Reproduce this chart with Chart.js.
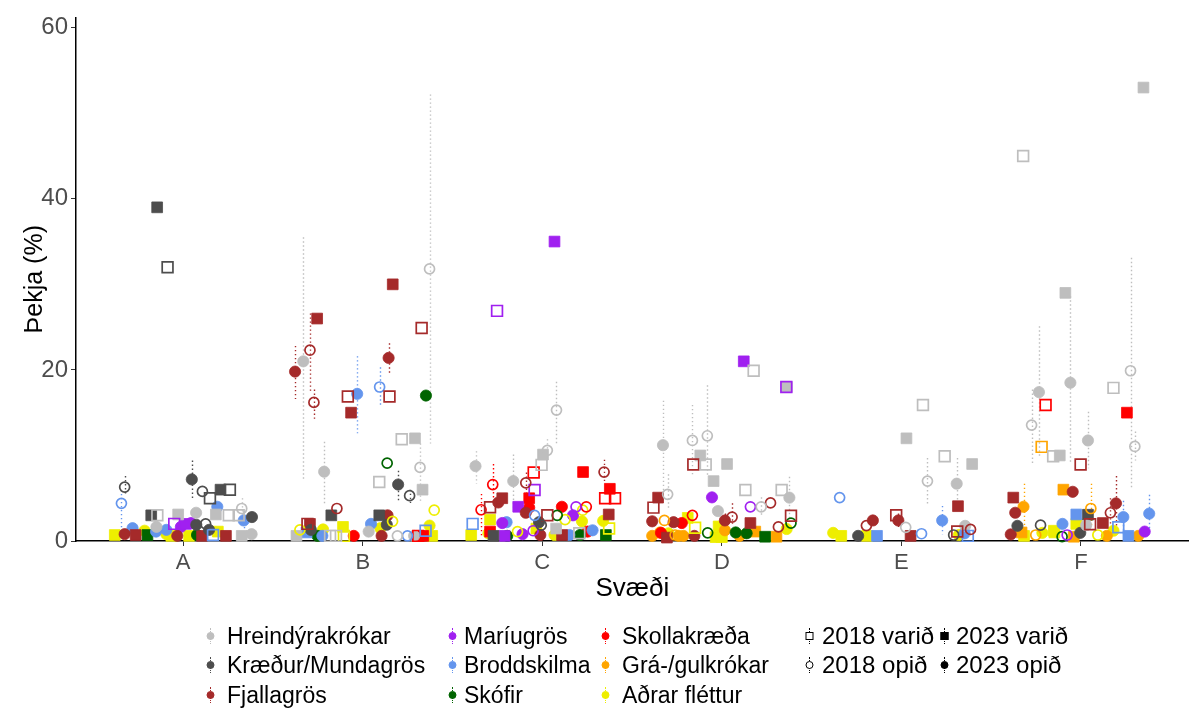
<!DOCTYPE html>
<html>
<head>
<meta charset="utf-8">
<script src="https://cdn.jsdelivr.net/npm/chart.js@4.4.1/dist/chart.umd.min.js"></script>
<style>
  html, body { margin: 0; padding: 0; background: #fff; }
  #wrap { position: relative; width: 1198px; height: 709px; font-family: "Liberation Sans", Arial, sans-serif; }
  #chart { position: absolute; left: 0; top: 0; }
  .lg { position: absolute; font-size: 23px; color: #000; line-height: 1; white-space: nowrap; transform: translateY(-50%); }
  .lg.grp { font-size: 24px; }
  .key { position: absolute; transform: translate(-50%, -50%); }
  .key .stem { position: absolute; left: 50%; top: 0; height: 100%; border-left: 1px dotted currentColor; transform: translateX(-0.5px); }
  .key .dot { position: absolute; left: 50%; top: 50%; transform: translate(-50%, -50%); box-sizing: border-box; }
</style>
</head>
<body>
<div id="wrap">
  <canvas id="chart" width="1198" height="709"></canvas>
  <div id="legend"></div>
</div>
<script>
// Regions on the x axis
const regions = ['A', 'B', 'C', 'D', 'E', 'F'];
const yTicks = [0, 20, 40, 60];

// Lichen groups
const speciesNames = ['Hreindýrakrókar', 'Kræður/Mundagrös', 'Fjallagrös', 'Maríugrös',
  'Broddskilma', 'Skófir', 'Skollakræða', 'Grá-/gulkrókar', 'Aðrar fléttur'];
const speciesColors = ['#BEBEBE', '#4D4D4D', '#A52A2A', '#A020F0',
  '#6495ED', '#006400', '#FF0000', '#FFA500', '#EEEE00'];

// Year / treatment groups
const groupKeys = ['v18', 'o18', 'v23', 'o23'];
const groupNames = ['2018 varið', '2018 opið', '2023 varið', '2023 opið'];

// Rows: [region, group, cover %, low, high]; matching jitter offsets follow each table
const hreinRows = [
  ['A','v23',3.1],['A','v23',3.1],['A','v23',0.6],['A','v18',3.0],['A','v18',3.0],['A','v18',3.0],
  ['A','o23',3.3],['A','o23',1.65],['A','o23',0.8],['A','o18',3.8,2.8,5.0],
  ['B','o23',21.0,7.0,35.5],['B','o23',8.1,4.4,11.6],['B','v23',0.6],['B','v18',0.6],['B','v18',0.6],
  ['B','o18',31.8,11.4,52.2],['B','v18',11.9],['B','v23',12.0],['B','o18',8.6,4.7,11.4],['B','v18',6.9],
  ['B','v23',6.0],['B','o23',1.1],['B','o18',0.6],['B','o23',0.6],
  ['C','o18',15.3,11.4,18.6],['C','o18',10.6,9.5,11.9],['C','v23',10.1],['C','v18',8.9],
  ['C','o23',8.75,6.7,10.5],['C','o23',7.0,3.9,10.1],['C','v23',1.45],['C','v18',0.9],
  ['D','v18',19.9],['D','v23',18.0],['D','o23',11.2,5.7,16.4],['D','o18',5.45,3.6,7.8],
  ['D','o18',11.75,7.6,15.9],['D','o18',12.3,7.6,18.2],['D','v23',10.0],['D','v18',8.95],['D','v23',9.0],
  ['D','v23',7.0],['D','v18',5.95],['D','v18',5.95],['D','o23',5.07,2.4,7.5],['D','o23',3.5],['D','o18',4.0,3.0,5.1],
  ['E','v18',15.9],['E','v23',12.0],['E','v18',9.9],['E','v23',9.0],['E','o18',7.0,4.1,9.7],
  ['E','o23',6.7,4.0,9.7],['E','o18',1.6],['E','o23',1.77],
  ['F','v23',53.0],['F','v18',45.0],['F','v23',29.0],['F','o18',19.9,6.25,33.1],['F','v18',17.9],
  ['F','o23',18.5,9.0,28.6],['F','o23',17.4,9.7,25.1],['F','o18',13.55,9.1,17.7],['F','v18',9.9],
  ['F','v23',10.0],['F','o23',11.75,8.5,15.1],['F','o18',11.05,9.4,12.8],['F','o23',1.85]
];
const hreinJitter = [
  -0.028,0.182,0.326,-0.144,0.254,0.309,0.072,-0.149,0.381,0.326,
  -0.331,-0.215,-0.369,-0.182,-0.149,0.372,0.217,0.291,0.319,0.092,0.333,0.033,0.193,0.286,
  0.079,0.028,0.004,-0.004,-0.372,-0.162,0.077,0.206,
  0.177,0.362,-0.328,-0.302,-0.164,-0.081,-0.12,-0.09,0.029,-0.046,0.131,0.333,0.376,-0.022,0.219,
  0.12,0.028,0.241,0.394,0.145,0.308,0.024,0.355,
  0.348,-0.322,-0.087,0.276,0.181,-0.059,-0.234,-0.275,-0.155,-0.118,0.039,0.3,0.029
];

const kraedurRows = [
  ['A','v23',39.0],['A','v18',32.0],['A','v23',3.0],['A','v23',6.0],['A','v18',5.0],['A','v18',6.0],
  ['A','o23',7.2,5.0,9.4],['A','o23',1.9],['A','o23',1.3],['A','o23',2.8],['A','o18',6.3,5.5,7.6],
  ['A','o18',2.0],['A','o18',5.8],
  ['B','v23',3.0],['B','o23',1.3],['B','v23',3.0],['B','o23',1.9],['B','o23',6.6,4.7,8.2],['B','o18',5.3,4.4,6.0],
  ['C','o23',2.2],['C','o18',1.85],['C','v23',0.6],
  ['E','o23',0.6],['E','o18',0.7],
  ['F','v23',3.07],['F','o23',1.77],['F','o18',1.85],['F','o23',0.95]
];
const kraedurJitter = [
  -0.145,-0.087,-0.178,0.208,0.149,0.26,0.048,0.073,0.144,0.383,-0.326,0.125,0.107,
  -0.175,-0.289,0.092,0.134,0.197,0.261,
  -0.018,-0.006,-0.272,
  -0.241,0.291,
  0.039,-0.354,-0.225,-0.004
];

const fjallaRows = [
  ['A','v23',0.7],['A','v23',0.6],['A','v23',0.6],['A','o23',0.6],['A','o23',0.8],
  ['B','o23',19.8,16.6,22.8],['B','o18',22.3,17.4,26.6],['B','o18',16.2,14.3,17.7],['B','v23',26.0],
  ['B','o18',3.8],['B','v18',2.0],['B','v23',2.0],['B','v18',16.9],['B','v23',15.0],['B','v18',16.9],
  ['B','o23',21.4,19.6,23.1],['B','v23',30.0],['B','v18',24.9],['B','o23',3.0,2.2,3.6],['B','o23',0.6],
  ['C','o18',6.8,5.5,8.0],['C','o18',8.06,6.7,9.5],['C','v23',5.0],['C','o23',4.5],['C','v18',3.95],
  ['C','o23',3.3],['C','v18',3.0],['C','v23',3.1],['C','o23',0.7],['C','v23',0.7],
  ['D','v18',8.95],['D','v23',5.07],['D','v18',3.9],['D','o18',4.45],['D','v18',2.95],['D','o23',2.3],
  ['D','o23',2.2],['D','o23',2.4,1.8,3.2],['D','o18',2.8,2.0,4.4],['D','v23',2.1],['D','o18',1.65],
  ['D','o23',0.6],['D','v23',0.4],
  ['E','v23',4.07],['E','v18',3.0],['E','o23',2.4],['E','o18',1.8],['E','o23',2.4,1.5,3.2],
  ['E','v23',0.6],['E','v18',1.1],['E','o18',1.35],
  ['F','v18',8.95],['F','o23',5.75],['F','v23',5.07],['F','o23',3.3],['F','o23',4.4,1.6,7.6],
  ['F','o18',3.3,2.0,5.0],['F','v23',2.1],['F','o23',0.77],['F','v18',1.95]
];
const fjallaJitter = [
  -0.265,0.105,0.238,-0.033,-0.326,
  -0.377,-0.294,-0.272,-0.254,-0.144,-0.308,-0.294,-0.083,-0.065,0.149,0.144,0.167,0.328,0.138,0.105,
  -0.092,0.344,-0.223,-0.245,-0.291,-0.092,0.028,0.37,-0.011,0.11,
  -0.159,-0.355,-0.381,0.271,0.385,-0.388,-0.269,0.017,0.057,0.159,0.315,-0.153,-0.306,
  0.315,-0.029,-0.159,-0.195,-0.017,0.051,0.311,0.385,
  -0.002,-0.046,-0.377,-0.366,0.195,0.164,0.122,-0.391,0.051
];

const mariuRows = [
  ['A','v18',2.0],['A','v23',2.0],['A','o23',1.65],['A','o23',2.1],
  ['C','v23',35.0],['C','v18',26.9],['C','v18',5.95],['C','v23',4.0],['C','o18',4.0],['C','o23',3.0],
  ['C','o23',2.1],['C','v23',0.6],['C','o23',0.8],['C','o18',1.2],
  ['D','v23',21.0],['D','v18',18.0],['D','o23',5.1],['D','o18',4.0],
  ['F','o18',0.7],['F','o23',1.1]
];
const mariuJitter = [
  -0.05,0.015,-0.013,0.044,
  0.068,-0.252,-0.043,-0.134,0.188,0.171,-0.223,-0.21,-0.11,-0.051,
  0.122,0.359,-0.055,0.159,
  -0.077,0.355
];

const broddRows = [
  ['A','o18',4.4,1.0,5.5],['A','o23',1.5],['A','o23',1.1],['A','o23',1.3],['A','o23',4.0],
  ['A','o23',2.4,1.5,3.5],['A','v18',0.7],
  ['B','v23',1.0],['B','o23',0.6],['B','o23',17.2,12.6,21.6],['B','o18',18.0,15.7,20.3],['B','o23',2.0],
  ['B','o18',0.6],['B','v18',1.2],
  ['C','o18',3.0],['C','o23',2.2],['C','v18',2.0],['C','o23',0.7],['C','o23',1.25],
  ['E','o18',5.07],['E','o23',2.4,0.8,4.1],['E','o18',0.85],['E','v23',0.6],['E','o23',0.9],['E','v18',0.6],
  ['F','o23',2.8,0.7,4.7],['F','o23',3.2,1.3,5.4],['F','v23',3.1],['F','o23',2.0],['F','v18',1.6],['F','v23',0.6]
];
const broddJitter = [
  -0.344,-0.282,-0.151,-0.094,0.19,0.337,0.166,
  -0.313,-0.225,-0.031,0.094,0.046,0.249,0.35,
  -0.043,-0.199,-0.388,0.151,0.28,
  -0.344,0.227,0.112,-0.136,0.352,0.37,
  0.236,0.38,-0.026,-0.103,0.208,0.264
];

const skofirRows = [
  ['A','v23',0.7],['A','o23',0.7],
  ['B','o23',0.6],['B','o23',17.0],['B','o18',9.1],
  ['C','o18',3.0],['C','o23',0.6],['C','o23',0.7],['C','v23',0.7],
  ['D','o18',2.1],['D','o18',0.95],['D','o23',1.0],['D','o23',0.9],['D','v23',0.5],
  ['F','o18',0.5]
];
const skofirJitter = [
  -0.199,0.077,
  -0.252,0.352,0.136,
  0.083,-0.195,0.21,0.354,
  0.385,-0.079,0.077,0.138,0.241,
  -0.105
];

const skollaRows = [
  ['B','o23',0.6],['B','v23',0.6],['B','v18',0.6],
  ['C','o18',6.6,4.4,9.0],['C','v18',8.0],['C','v23',8.06],['C','v23',6.1],['C','v18',5.0],['C','v18',5.0],
  ['C','v23',5.0],['C','o18',3.65,0.5,5.5],['C','o23',3.9],['C','o23',4.0],['C','o18',4.0],['C','v23',1.1],['C','o23',1.1],
  ['D','o18',3.0],['D','o23',2.1],['D','o23',0.95],
  ['F','v18',15.9],['F','v23',15.0]
];
const skollaJitter = [
  -0.05,0.337,0.309,
  -0.276,-0.048,0.227,0.376,0.35,0.405,-0.073,-0.341,-0.073,0.109,0.245,-0.291,0.252,
  -0.164,-0.223,-0.339,
  -0.197,0.256
];

const graRows = [
  ['D','o18',2.4],['D','o23',0.6],['D','o23',1.0],['D','o23',0.6],['D','o23',0.6],['D','o23',1.25],
  ['D','o23',0.6],['D','v23',1.1],['D','v23',0.5],['D','o18',0.7],
  ['F','v18',11.0],['F','v23',6.0],['F','o23',4.0,1.6,6.7],['F','o18',3.8,1.7,6.7],['F','v23',1.0],
  ['F','o18',0.7],['F','v23',0.5],['F','o23',0.6],['F','o23',0.6]
];
const graJitter = [
  -0.32,-0.388,-0.344,-0.241,-0.214,0.017,0.099,0.186,0.304,-0.26,
  -0.219,-0.098,-0.32,0.055,-0.331,-0.252,-0.04,0.144,0.319
];

const adrarRows = [
  ['A','v23',0.7],['A','v23',0.6],['A','v23',0.6],['A','v23',1.1],['A','o23',1.2],['A','o23',0.8],
  ['B','o18',1.3],['B','o23',1.35],['B','v23',1.65],['B','v18',0.6],['B','o18',3.6],['B','o23',1.8],
  ['B','o18',2.3],['B','o23',1.5],['B','v23',0.6],
  ['C','o18',3.6],['C','o18',2.5],['C','o23',2.3],['C','o23',2.35],['C','v18',1.45],['C','v23',2.5],
  ['C','v23',0.7],['C','o23',0.9],['C','o18',1.1],['C','o23',0.7],['C','v23',1.45],
  ['D','v23',2.7],['D','v18',1.55],['D','o23',1.4],['D','v23',1.7],['D','o23',0.9],['D','v23',0.45],['D','v23',0.45],
  ['E','o23',0.95],['E','v23',0.6],['E','v23',0.6],['E','o23',0.7],
  ['F','v23',0.6],['F','v23',1.0],['F','o23',0.95],['F','v23',2.0],['F','o18',0.7],['F','o23',1.2],['F','v23',1.2]
];
const adrarJitter = [
  -0.381,-0.066,0.033,0.193,-0.215,-0.094,
  -0.35,-0.221,-0.11,-0.105,0.398,0.372,0.166,0.098,0.387,
  0.225,0.127,0.221,0.339,0.372,-0.291,-0.396,-0.3,-0.138,0.068,-0.033,
  -0.19,-0.149,0.361,-0.018,-0.297,-0.035,0,
  -0.38,-0.335,-0.192,0.32,
  -0.317,-0.148,-0.215,-0.026,0.094,0.181,-0.151
];

const speciesRows = [hreinRows, kraedurRows, fjallaRows, mariuRows, broddRows, skofirRows, skollaRows, graRows, adrarRows];
const speciesJitter = [hreinJitter, kraedurJitter, fjallaJitter, mariuJitter, broddJitter, skofirJitter, skollaJitter, graJitter, adrarJitter];

Chart.defaults.font.family = '"Liberation Sans", Arial, sans-serif';

// one scatter dataset per lichen group and year/treatment
const datasets = [];
speciesRows.forEach((rows, s) => {
  const col = speciesColors[s];
  groupKeys.forEach((g) => {
    const pts = [];
    rows.forEach((r, i) => {
      if (r[1] !== g) return;
      pts.push({
        x: regions.indexOf(r[0]) + 1 + speciesJitter[s][i],
        y: r[2],
        lo: r.length > 3 ? r[3] : null,
        hi: r.length > 4 ? r[4] : null
      });
    });
    if (!pts.length) return;
    const square = g[0] === 'v';
    const filled = g.endsWith('23');
    datasets.push({
      label: speciesNames[s] + ' ' + groupNames[groupKeys.indexOf(g)],
      data: pts,
      pointStyle: square ? 'rect' : 'circle',
      pointRadius: square ? 7.6 : (filled ? 5.6 : 5),
      pointBackgroundColor: filled ? col : 'rgba(0,0,0,0)',
      pointBorderColor: col,
      pointBorderWidth: filled ? 0.8 : 1.7,
      showLine: false,
      clip: false,
      order: filled ? 1 : 0
    });
  });
});

// dotted vertical error bars drawn under the markers
const errorBars = {
  id: 'errorBars',
  beforeDatasetsDraw(chart) {
    const ctx = chart.ctx;
    const ys = chart.scales.y;
    ctx.save();
    ctx.lineWidth = 1.4;
    ctx.setLineDash([1.4, 2.6]);
    chart.data.datasets.forEach((ds, di) => {
      const meta = chart.getDatasetMeta(di);
      ds.data.forEach((p, i) => {
        if (p.lo == null || p.hi == null) return;
        const x = Math.round(meta.data[i].x) + 0.5;
        ctx.strokeStyle = ds.pointBorderColor;
        ctx.beginPath();
        ctx.moveTo(x, ys.getPixelForValue(p.hi));
        ctx.lineTo(x, ys.getPixelForValue(p.lo));
        ctx.stroke();
      });
    });
    ctx.restore();
  }
};

new Chart(document.getElementById('chart'), {
  type: 'scatter',
  data: { datasets },
  plugins: [errorBars],
  options: {
    responsive: false,
    animation: false,
    events: [],
    layout: { padding: { top: 10, right: 0, bottom: 100, left: 0 } },
    plugins: { legend: { display: false }, tooltip: { enabled: false } },
    scales: {
      x: {
        type: 'linear', min: 0.403, max: 6.6,
        afterBuildTicks: (s) => { s.ticks = regions.map((_, i) => ({ value: i + 1 })); },
        afterFit: (s) => { s.height = 68; },
        ticks: { callback: (v) => regions[v - 1], font: { size: 22 }, color: '#4D4D4D', padding: 4, maxRotation: 0 },
        grid: { display: true, drawOnChartArea: false, drawTicks: true, tickLength: 5, color: '#333' },
        border: { display: true, color: '#000', width: 1.5 },
        title: { display: true, text: 'Svæði', font: { size: 26 }, color: '#000', padding: { top: 0, bottom: 5 } }
      },
      y: {
        min: 0, max: 61.2,
        afterBuildTicks: (s) => { s.ticks = yTicks.map((v) => ({ value: v })); },
        afterFit: (s) => { s.width = 76; },
        ticks: { font: { size: 24 }, color: '#4D4D4D', padding: 3 },
        grid: { display: true, drawOnChartArea: false, drawTicks: true, tickLength: 5, color: '#333' },
        border: { display: true, color: '#000', width: 1.5 },
        title: { display: true, text: 'Þekja (%)', font: { size: 25 }, color: '#000', padding: { top: 20, bottom: 0 } }
      }
    }
  }
});

// legend below the plot
const legend = document.getElementById('legend');
const rowY = [636, 665, 695];
const speciesCols = [[210, 227], [452, 464], [605, 622]];
function addKey(cx, cy, color, shape, filled) {
  const k = document.createElement('div');
  k.className = 'key';
  k.style.left = cx + 'px'; k.style.top = cy + 'px';
  k.style.width = '9px'; k.style.height = '16px'; k.style.color = color;
  const stem = document.createElement('div'); stem.className = 'stem';
  const dot = document.createElement('div'); dot.className = 'dot';
  dot.style.width = '8px'; dot.style.height = '8px';
  dot.style.borderRadius = shape === 'square' ? '0' : '50%';
  dot.style.border = '1px solid ' + color;
  dot.style.background = filled ? color : '#fff';
  k.appendChild(stem); k.appendChild(dot);
  legend.appendChild(k);
}
function addText(x, y, text, cls) {
  const t = document.createElement('div');
  t.className = 'lg' + (cls ? ' ' + cls : '');
  t.style.left = x + 'px'; t.style.top = y + 'px';
  t.textContent = text;
  legend.appendChild(t);
}
speciesNames.forEach((name, i) => {
  const col = Math.floor(i / 3), row = i % 3;
  addKey(speciesCols[col][0], rowY[row], speciesColors[i], 'circle', true);
  addText(speciesCols[col][1], rowY[row], name);
});
const groupCols = [[809, 822], [944, 956]];
groupNames.forEach((name, i) => {
  const col = Math.floor(i / 2), row = i % 2;
  addKey(groupCols[col][0], rowY[row], '#000', i % 2 === 0 ? 'square' : 'circle', col === 1);
  addText(groupCols[col][1], rowY[row], name, 'grp');
});
</script>
</body>
</html>
